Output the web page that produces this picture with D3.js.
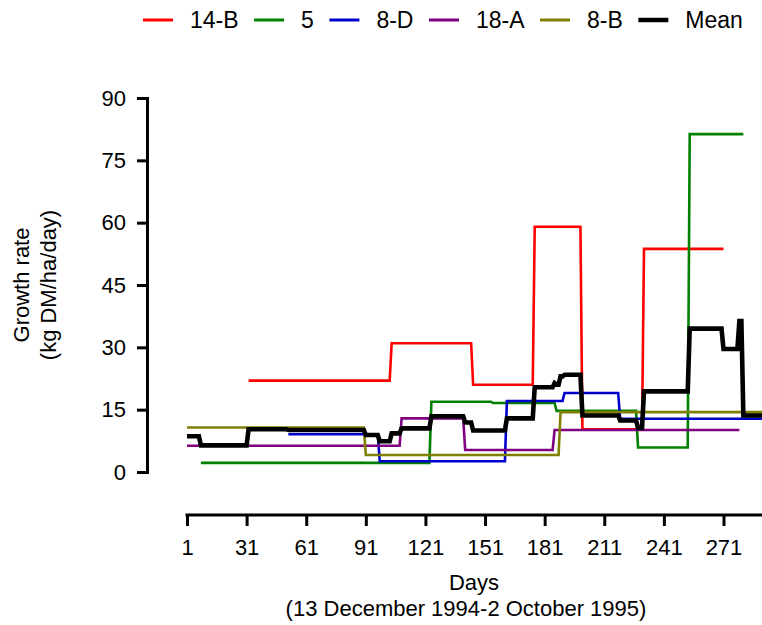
<!DOCTYPE html>
<html>
<head>
<meta charset="utf-8">
<script src="https://cdn.jsdelivr.net/npm/d3@7"></script>
<style>
  body { margin: 0; background: #fff; }
  svg text { font-family: "Liberation Sans", Arial, sans-serif; fill: #000; }
</style>
</head>
<body>
<svg id="chart" width="762" height="625"></svg>
<script>
// series labels and colours, in legend order
const seriesNames = ["14-B", "5", "8-D", "18-A", "8-B", "Mean"];
const seriesColors = ["#ff0000", "#008000", "#0000cc", "#800080", "#808000", "#000000"];

// each series: day a level starts, the level, and the last day drawn
const days14B = [32, 104, 145, 176, 200, 231];
const vals14B = [22, 31, 21, 59, 10.3, 53.7];
const end14B = 271;

const days5 = [8, 124, 155, 187, 228, 254];
const vals5 = [2.2, 16.9, 16.6, 14.7, 5.9, 81.3];
const end5 = 281;

const days8D = [52, 98, 162, 191, 219];
const vals8D = [9.1, 2.6, 17.1, 19.0, 12.8];
const end8D = 293;

const days18A = [1, 109, 141, 186];
const vals18A = [6.3, 12.9, 5.3, 10.1];
const end18A = 279;

const days8B = [1, 91, 189];
const vals8B = [10.7, 4.1, 14.4];
const end8B = 293;

const daysMean = [1, 8, 32, 52, 91, 98, 104, 109, 124, 141, 145, 162, 176, 186, 187, 189, 191, 200, 219, 228, 231, 254, 271, 279, 281];
const valsMean = [8.6, 6.4, 10.3, 10.1, 8.9, 7.4, 9.3, 10.5, 13.4, 11.9, 10.0, 12.9, 20.4, 21.4, 21.0, 23.0, 23.4, 13.6, 12.4, 10.6, 19.4, 34.5, 29.6, 36.3, 13.6];
const endMean = 293;

const xTicks = [1, 31, 61, 91, 121, 151, 181, 211, 241, 271];
const yTicks = [0, 15, 30, 45, 60, 75, 90];

const series = [
  { days: days14B, vals: vals14B, end: end14B },
  { days: days5, vals: vals5, end: end5 },
  { days: days8D, vals: vals8D, end: end8D },
  { days: days18A, vals: vals18A, end: end18A },
  { days: days8B, vals: vals8B, end: end8B },
  { days: daysMean, vals: valsMean, end: endMean }
];

const svg = d3.select("#chart");
const tickFont = 22;
const titleFont = 22;
const legendFont = 23;

const x = d3.scaleLinear().domain([1, 293]).range([187, 187 + 292 * 1.987]);
const y = d3.scaleLinear().domain([0, 90]).range([472, 98]);

// turn level changes into a polyline, each change ramps over one day
function toPoints(s) {
  let pts = [];
  for (let i = 0; i < s.days.length; i++) {
    if (i > 0) pts.push([s.days[i] - 1, s.vals[i - 1]]);
    pts.push([s.days[i], s.vals[i]]);
  }
  pts.push([s.end, s.vals[s.vals.length - 1]]);
  return pts;
}

const line = d3.line()
  .x((d) => x(d[0]))
  .y((d) => y(d[1]));

svg.append("defs").append("clipPath").attr("id", "clip")
  .append("rect").attr("x", 150).attr("y", 0).attr("width", 612).attr("height", 500);

const lines = svg.append("g").attr("clip-path", "url(#clip)");
series.forEach(function (s, i) {
  lines.append("path")
    .attr("d", line(toPoints(s)))
    .attr("fill", "none")
    .attr("stroke", seriesColors[i])
    .attr("stroke-width", i == 5 ? 4.6 : 2.6)
    .attr("stroke-linejoin", "miter");
});

// y axis
const yAxis = svg.append("g")
  .attr("transform", "translate(147,0)")
  .call(d3.axisLeft(y).tickValues(yTicks).tickSize(10).tickSizeOuter(0).tickPadding(11));
// x axis
const xAxis = svg.append("g")
  .attr("transform", "translate(0,515)")
  .call(d3.axisBottom(x).tickValues(xTicks).tickSize(11).tickSizeOuter(0).tickPadding(13));

[yAxis, xAxis].forEach(function (a) {
  a.select(".domain").attr("stroke", "#000").attr("stroke-width", 3).attr("stroke-linecap", "square");
  a.selectAll(".tick line").attr("stroke", "#000").attr("stroke-width", 3);
  a.selectAll(".tick text")
    .style("font-family", '"Liberation Sans", Arial, sans-serif')
    .style("font-size", tickFont + "px")
    .attr("fill", "#000");
});
xAxis.select(".domain").attr("d", "M" + x(1) + ",0H770");

// axis titles
svg.append("text")
  .attr("text-anchor", "middle")
  .attr("transform", "translate(29,285) rotate(-90)")
  .style("font-size", titleFont + "px")
  .text("Growth rate");
svg.append("text")
  .attr("text-anchor", "middle")
  .attr("transform", "translate(56,285) rotate(-90)")
  .style("font-size", titleFont + "px")
  .text("(kg DM/ha/day)");

svg.append("text")
  .attr("text-anchor", "middle")
  .attr("x", 474).attr("y", 590)
  .style("font-size", titleFont + "px")
  .text("Days");
svg.append("text")
  .attr("text-anchor", "middle")
  .attr("x", 466).attr("y", 616)
  .style("font-size", titleFont + "px")
  .text("(13 December 1994-2 October 1995)");

// legend, laid out left to right
const legend = svg.append("g");
let lx = 143;
seriesNames.forEach(function (name, i) {
  legend.append("line")
    .attr("x1", lx).attr("x2", lx + 30)
    .attr("y1", 20).attr("y2", 20)
    .attr("stroke", seriesColors[i])
    .attr("stroke-width", i == 5 ? 4.5 : 3);
  const t = legend.append("text")
    .attr("x", lx + 47).attr("y", 28)
    .style("font-size", legendFont + "px")
    .text(name);
  lx += 47 + t.node().getComputedTextLength() + 15.5;
});
</script>
</body>
</html>
